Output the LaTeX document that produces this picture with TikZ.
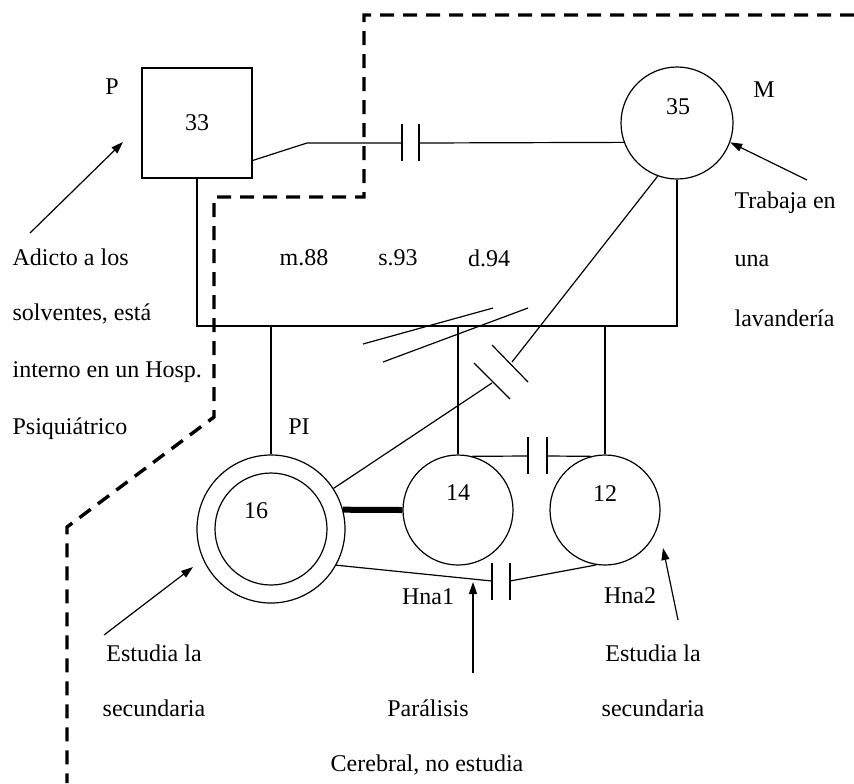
\documentclass[tikz,border=0pt]{standalone}
\usepackage{fontspec}
\setmainfont{Liberation Serif}
\usetikzlibrary{arrows.meta}

\begin{document}
\begin{tikzpicture}[
  x=0.5pt, y=-0.5pt,
  font=\fontsize{12}{14}\selectfont,
  line width=0.6pt,
  person/.style={draw, circle, minimum size=55pt, inner sep=0pt},
  txt/.style={inner sep=0pt},
  lbl/.style={inner sep=0pt, anchor=west},
  pointer/.style={-{Triangle[length=6pt, width=4pt]}},
  home/.style={line width=1.7pt, dash pattern=on 7pt off 4.5pt},
]
\useasboundingbox (0,0) rectangle (854,783);
% Household boundary
\draw[home] (854,15) -- (364,15) -- (364,197) -- (214,197) -- (214,417) -- (67,527) -- (67,783);
% Parents
\node[draw, minimum size=55pt, inner sep=0pt] (P) at (197,123) {33};
\node[person, minimum size=56pt] (M) at (677,123) {};
\node[txt] (Plbl) at (112,87) {P};
\node[txt] (Mlbl) at (764,90) {M};
\node[txt] (Mage) at (678,107) {35};
% Children
\node[person, minimum size=74pt] (PIo) at (271,529) {};
\node[person, minimum size=56pt] (PIi) at (271,529) {};
\node[person] (hna1) at (458,510) {};
\node[person] (hna2) at (605,510) {};
\node[txt] (PIage) at (256,511) {16};
\node[txt] (hna1age) at (458,493) {14};
\node[txt] (hna2age) at (605,494) {12};
\node[txt] (PIlbl) at (299,427) {PI};
\node[txt] (hna1lbl) at (428,597) {Hna1};
\node[txt] (hna2lbl) at (630,596) {Hna2};
% Marriage
\coordinate (m1) at (307,143);
\coordinate (s1) at (402,143);
\coordinate (s2) at (419,143);
\draw (P.-34) -- (m1) -- (s1);
\draw (s2) -- (M.200);
\foreach \b in {s1,s2} \draw (\b) ++(0,-19) -- ++(0,37);
\foreach \x/\t [count=\i] in {304/m.88, 398/s.93, 489/d.94}
  \node[txt] (date\i) at (\x,258) {\t};
% Sibling line
\coordinate (sib) at (0,326);
\draw (P.south) -- (P.south |- sib) -- (M.south |- sib) -- (M.south);
\foreach \k in {PIo,hna1,hna2} \draw (\k.north |- sib) -- (\k.north);
\draw (363,344) -- (493,308);
\draw (383,362) -- (528,308);
% Relations
\coordinate (c1) at (512,362);
\coordinate (c2) at (492,383);
\draw (M.250) -- (c1);
\draw (c2) -- (PIo.33);
\draw (492,345) -- (528,382);
\draw (474,363) -- (510,399);
\draw[line width=3pt] (PIo.15) -- (hna1.west);
\coordinate (t1) at (528,456);
\coordinate (t2) at (547,456);
\draw (hna1.75) -- (t1);
\draw (t2) -- (hna2.105);
\foreach \b in {t1,t2} \draw (\b) ++(0,-19) -- ++(0,37);
\coordinate (b1) at (492,581);
\coordinate (b2) at (510,581);
\draw (PIo.-29) -- (b1);
\draw (b2) -- (hna2.-99);
\foreach \b in {b1,b2} \draw (\b) ++(0,-18) -- ++(0,37);
% Notes
\foreach \y/\t [count=\i] in {257/Adicto a los, 314/{solventes, está}, 372/interno en un Hosp., 429/Psiquiátrico}
  \node[lbl] (pnote\i) at (12,\y) {\t};
\foreach \y/\t [count=\i] in {203/Trabaja en, 261/una, 318/lavandería}
  \node[lbl] (mnote\i) at (734,\y) {\t};
\node[txt] (pinote1) at (154,653) {Estudia la};
\node[txt] (pinote2) at (154,708) {secundaria};
\node[txt] (h2note1) at (653,653) {Estudia la};
\node[txt] (h2note2) at (653,708) {secundaria};
\node[txt] (h1note1) at (428,708) {Parálisis};
\node[txt] (h1note2) at (427,765) {Cerebral, no estudia};
% Pointers
\coordinate (pa) at (30,233);
\coordinate (pb) at (123,142);
\coordinate (ma) at (807,180);
\coordinate (pia) at (104,635);
\coordinate (pib) at (193,567);
\coordinate (h1a) at (473,673);
\coordinate (h1b) at (473,582);
\coordinate (h2a) at (678,620);
\coordinate (h2b) at (663,548);
\draw[pointer] (pa) -- (pb);
\draw[pointer] (ma) -- (M.-20);
\draw[pointer] (pia) -- (pib);
\draw[pointer] (h1a) -- (h1b);
\draw[pointer] (h2a) -- (h2b);
\end{tikzpicture}
\end{document}
